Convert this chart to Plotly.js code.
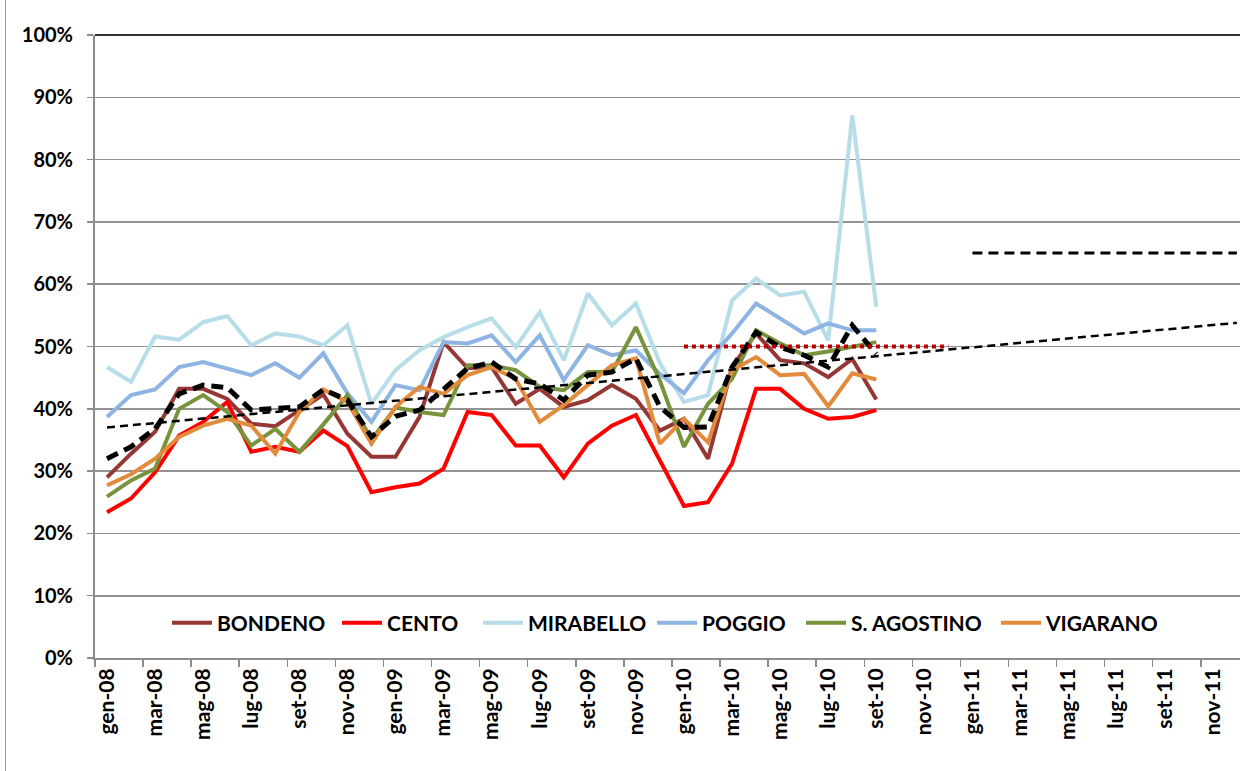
<!DOCTYPE html>
<html>
<head>
<meta charset="utf-8">
<script src="https://cdn.plot.ly/plotly-3.0.1.min.js"></script>
<style>
html,body{margin:0;padding:0;background:#fff;}
#wrap{position:relative;width:1242px;height:771px;}
#chart{position:absolute;left:0;top:0;width:1242px;height:771px;}
#edge{position:absolute;left:5px;top:0;width:1px;height:771px;background:#9a9a9a;}
</style>
</head>
<body>
<div id="wrap"><div id="chart"></div><div id="edge"></div></div>
<script>
// Months gen-08 .. dic-11
const months = [
  "gen-08","feb-08","mar-08","apr-08","mag-08","giu-08","lug-08","ago-08","set-08","ott-08","nov-08","dic-08",
  "gen-09","feb-09","mar-09","apr-09","mag-09","giu-09","lug-09","ago-09","set-09","ott-09","nov-09","dic-09",
  "gen-10","feb-10","mar-10","apr-10","mag-10","giu-10","lug-10","ago-10","set-10","ott-10","nov-10","dic-10",
  "gen-11","feb-11","mar-11","apr-11","mag-11","giu-11","lug-11","ago-11","set-11","ott-11","nov-11","dic-11"
];
// Observed months (gen-08 .. set-10)
const obsMonths = months.slice(0, 33);

const bondeno    = [29.0,32.8,36.3,43.2,43.2,41.6,37.6,37.2,39.8,42.3,36.0,32.3, 32.3,38.7,50.7,46.5,46.7,40.8,43.2,40.3,41.4,43.8,41.6,36.5, 38.4,32.0,46.7,52.1,47.8,47.3,45.1,48.0,41.5];
const cento      = [23.4,25.6,29.8,35.7,37.9,41.1,33.1,33.9,33.1,36.5,34.0,26.6, 27.4,28.0,30.4,39.5,39.0,34.1,34.1,29.0,34.4,37.3,39.0,31.7, 24.4,25.0,31.2,43.2,43.2,40.0,38.4,38.7,39.8];
const mirabello  = [46.7,44.3,51.6,51.1,53.9,54.9,50.2,52.1,51.6,50.2,53.4,40.8, 46.2,49.4,51.5,53.1,54.5,49.9,55.5,47.8,58.5,53.4,56.9,47.3, 41.1,42.2,57.4,60.9,58.2,58.8,51.0,87.1,56.4];
const poggio     = [38.7,42.2,43.1,46.7,47.5,46.4,45.4,47.3,45.0,48.9,42.5,37.9, 43.8,43.0,50.7,50.5,51.8,47.5,51.8,44.6,50.2,48.6,49.4,45.6, 42.5,47.8,52.1,56.9,54.5,52.1,53.7,52.6,52.6];
const sagostino  = [25.9,28.5,30.4,40.0,42.2,39.5,34.1,36.8,33.1,37.5,42.2,35.0, 40.2,39.5,39.0,47.0,47.0,46.2,43.5,43.0,45.9,45.9,53.1,44.5, 33.9,40.8,44.8,52.6,50.5,48.6,49.2,49.9,50.7];
const vigarano   = [27.7,29.5,32.0,35.5,37.3,38.4,37.3,32.8,39.5,43.1,41.1,34.4, 40.3,43.5,42.4,45.4,46.7,44.8,37.9,40.6,43.8,47.0,48.1,34.4, 38.4,34.6,46.2,48.3,45.4,45.6,40.4,45.7,44.7];
const media      = [32.0,33.9,36.8,42.4,43.8,43.4,39.8,40.0,40.3,43.1,41.4,35.5, 38.8,39.8,43.2,46.5,47.5,44.8,44.0,41.4,45.4,45.9,48.1,40.3, 37.0,37.1,46.7,52.3,49.9,48.6,46.7,53.4,48.8];

// Trend line endpoints (gen-08, dic-11)
const trendMonths = ["gen-08","dic-11"];
const trendValues = [37.0, 53.8];
// Targets
const target2010Months = ["gen-10","dic-10"];
const target2010Values = [50, 50];
const target2011Months = ["gen-11","dic-11"];
const target2011Values = [65, 65];

const seriesNames  = ["BONDENO","CENTO","MIRABELLO","POGGIO","S. AGOSTINO","VIGARANO"];
const seriesValues = [bondeno, cento, mirabello, poggio, sagostino, vigarano];
const seriesColors = ["#953735","#FF0000","#B7DEE8","#8EB4E3","#77933C","#E38B3C"];

const fontFam = "Lato";
const legendX = [0.0629, 0.2114, 0.3345, 0.4865, 0.6166, 0.7869];

const traces = [];
const layout = {
  width: 1242, height: 771,
  margin: {l: 95, r: 2, t: 35, b: 113},
  paper_bgcolor: "#fff", plot_bgcolor: "#fff",
  font: {family: fontFam, size: 20, color: "#000", weight: 700},
  showlegend: true,
  xaxis: {
    type: "category", categoryorder: "array", categoryarray: months,
    range: [-0.5, 47.13],
    tickmode: "linear", tick0: 0, dtick: 2,
    tickson: "boundaries",
    ticks: "outside", ticklen: 7, tickcolor: "#8c8c8c", tickwidth: 1.5,
    tickangle: -90,
    tickfont: {family: fontFam, size: 21, color: "#000", weight: 700},
    showgrid: false, zeroline: false,
    showline: true, linecolor: "#8c8c8c", linewidth: 2
  },
  yaxis: {
    range: [0, 100], tickmode: "linear", tick0: 0, dtick: 10, ticksuffix: "%",
    ticks: "outside", ticklen: 6, tickcolor: "#8c8c8c", tickwidth: 1.5,
    ticklabelstandoff: 10,
    tickfont: {family: fontFam, size: 20, color: "#000", weight: 700},
    showgrid: true, gridcolor: "#939393", gridwidth: 1.6,
    zeroline: false, showline: true, linecolor: "#8c8c8c", linewidth: 2
  },
  shapes: [
    {type:"line", xref:"paper", yref:"paper", x0:0, x1:1, y0:1, y1:1, line:{color:"#333", width:2}}
  ]
};

seriesNames.forEach((n, k) => {
  const lg = k === 0 ? "legend" : "legend" + (k + 1);
  traces.push({
    type: "scatter", mode: "lines", name: n, legend: lg,
    x: obsMonths, y: seriesValues[k],
    line: {color: seriesColors[k], width: 4}
  });
  layout[lg] = {
    orientation: "h", x: legendX[k], xanchor: "left", y: 0.056, yanchor: "middle",
    font: {family: fontFam, size: 21, color: "#000", weight: 700},
    bgcolor: "rgba(0,0,0,0)", itemwidth: 40
  };
});
traces.push({type:"scatter", mode:"lines", name:"media", showlegend:false,
  x: obsMonths, y: media, line:{color:"#000", width:5, dash:"12px,7px"}});
traces.push({type:"scatter", mode:"lines", name:"tendenza", showlegend:false,
  x: trendMonths, y: trendValues, line:{color:"#000", width:2.5, dash:"8px,5px"}});
traces.push({type:"scatter", mode:"lines", name:"obiettivo 2010", showlegend:false,
  x: target2010Months, y: target2010Values, line:{color:"#C00000", width:4, dash:"dot"}});
traces.push({type:"scatter", mode:"lines", name:"obiettivo 2011", showlegend:false,
  x: target2011Months, y: target2011Values, line:{color:"#000", width:3, dash:"10px,6px"}});

Plotly.newPlot("chart", traces, layout, {displayModeBar: false, staticPlot: true});
</script>
</body>
</html>
